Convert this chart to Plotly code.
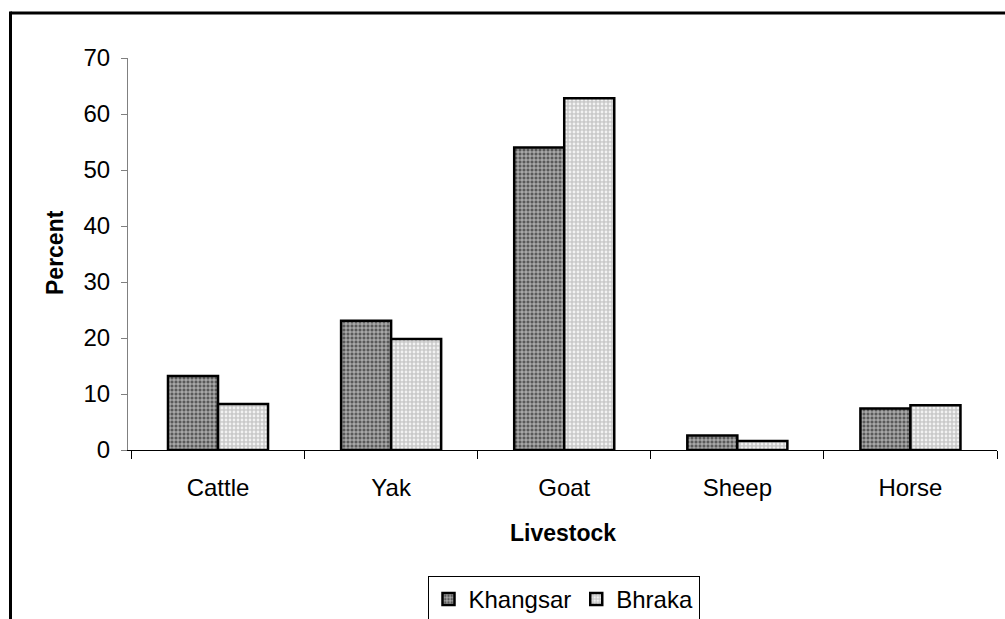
import plotly.graph_objects as go

# Livestock composition (% of herd) in two villages
livestock = ["Cattle", "Yak", "Goat", "Sheep", "Horse"]
khangsar = [13.2, 23.1, 54.0, 2.6, 7.4]
bhraka = [8.2, 19.8, 62.8, 1.6, 8.0]
y_ticks = [0, 10, 20, 30, 40, 50, 60, 70]

FONT = "Liberation Sans, Arial, sans-serif"
FS = 24

fig = go.Figure()
fig.add_trace(go.Bar(
    x=livestock, y=khangsar, name="Khangsar",
    marker=dict(
        color="#6a6a6a",
        line=dict(color="black", width=2.5),
        pattern=dict(shape="+", bgcolor="#5a5a5a", fgcolor="#d6d6d6",
                     size=4, solidity=0.35, fillmode="replace"),
    ),
))
fig.add_trace(go.Bar(
    x=livestock, y=bhraka, name="Bhraka",
    marker=dict(
        color="#d0d0d0",
        line=dict(color="black", width=2.5),
        pattern=dict(shape=".", bgcolor="#c9c9c9", fgcolor="#f2f2f2",
                     size=4, solidity=0.4, fillmode="replace"),
    ),
))

# Plot area in pixels
L, R, T, B = 128, 8, 58, 169
W, H = 1005, 619
pw, ph = W - L - R, H - T - B


def px_x(px):
    return (px - L) / pw


def px_y(py):
    return (H - B - py) / ph


# Outer chart frame (top and left edges)
frame = [
    dict(type="line", xref="paper", yref="paper",
         x0=px_x(10.5), x1=px_x(1010), y0=px_y(13), y1=px_y(13),
         line=dict(color="black", width=3)),
    dict(type="line", xref="paper", yref="paper",
         x0=px_x(10.5), x1=px_x(10.5), y0=px_y(11.5), y1=px_y(625),
         line=dict(color="black", width=3)),
]

titles = [
    dict(text="<b>Percent</b>", xref="paper", yref="paper",
         x=px_x(55), y=px_y(253), textangle=-90, showarrow=False,
         xanchor="center", yanchor="middle", font=dict(size=FS - 1)),
    dict(text="<b>Livestock</b>", xref="paper", yref="paper",
         x=px_x(563), y=px_y(533), showarrow=False,
         xanchor="center", yanchor="middle", font=dict(size=FS - 1)),
]

fig.update_layout(
    width=W, height=H,
    margin=dict(l=L, r=R, t=T, b=B, autoexpand=False),
    paper_bgcolor="white", plot_bgcolor="white",
    barmode="group", bargap=0.422, bargroupgap=0,
    font=dict(family=FONT, size=FS, color="black"),
    shapes=frame,
    annotations=titles,
    showlegend=True,
    legend=dict(
        orientation="h",
        xref="container", x=563.5 / W, xanchor="center",
        yref="container", y=1 - 576 / H, yanchor="top",
        bordercolor="black", borderwidth=1, bgcolor="white",
        font=dict(family=FONT, size=FS), itemwidth=30,
        traceorder="normal",
    ),
    xaxis=dict(
        type="category", tickson="boundaries", range=[-0.52, 4.5],
        automargin=False,
        showline=True, linecolor="black", linewidth=1,
        ticks="outside", ticklen=8, tickcolor="black",
        ticklabelstandoff=16,
        showgrid=False, tickfont=dict(size=FS),
    ),
    yaxis=dict(
        range=[0, 70], tickvals=y_ticks, automargin=False,
        showline=True, linecolor="#808080", linewidth=1,
        ticks="outside", ticklen=6, tickcolor="#808080",
        ticklabelstandoff=6,
        showgrid=False, zeroline=False, tickfont=dict(size=FS),
    ),
)

fig.write_html("out.html")
